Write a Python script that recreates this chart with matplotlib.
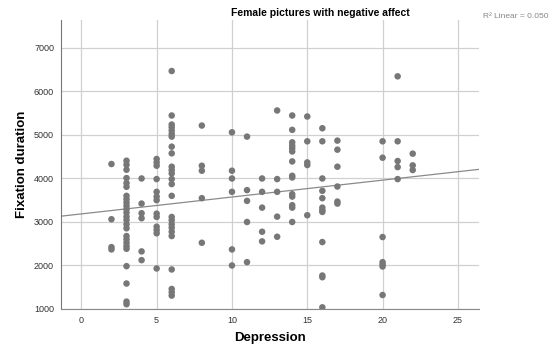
import numpy as np
import matplotlib
matplotlib.use('Agg')
import matplotlib.pyplot as plt

# Depression score -> fixation durations observed at that score
depression = [2] * 4 + [3] * 25 + [4] * 6 + [5] * 13 + [6] * 25 + [8] * 5 + [10] * 6 \
    + [11] * 5 + [12] * 5 + [13] * 5 + [14] * 14 + [15] * 5 + [16] * 12 + [17] * 6 \
    + [20] * 7 + [21] * 5 + [22] * 3

fixation = [
    # 2
    4331, 3062, 2422, 2369,
    # 3
    4407, 4315, 4200, 4008, 3893, 3808, 3600, 3523, 3445, 3369, 3292, 3214, 3122,
    3046, 2946, 2854, 2676, 2600, 2522, 2445, 2383, 1984, 1585, 1170, 1110,
    # 4
    3999, 3422, 3200, 3085, 2323, 2122,
    # 5
    4447, 4368, 4292, 3985, 3692, 3583, 3500, 3191, 3115, 2891, 2815, 2739, 1931,
    # 6
    6468, 5446, 5238, 5176, 5100, 5023, 4961, 4730, 4576, 4269, 4193, 4114, 3985,
    3870, 3600, 3115, 3039, 2946, 2868, 2775, 2676, 1908, 1460, 1384, 1308,
    # 8
    5215, 4292, 4177, 3546, 2522,
    # 10
    5060, 4177, 3999, 3692, 2369, 2000,
    # 11
    4961, 3731, 3484, 2999, 2076,
    # 12
    3999, 3692, 3329, 2775, 2554,
    # 13
    5561, 3985, 3692, 3122, 2660,
    # 14
    5446, 5116, 4830, 4753, 4691, 4620, 4391, 4061, 4022, 3639, 3583, 3385, 3329, 2999,
    # 15
    5423, 4853, 4368, 4308, 3154,
    # 16
    5153, 4853, 3999, 3715, 3546, 3329, 3269, 3230, 2538, 1769, 1730, 1038,
    # 17
    4869, 4661, 4269, 3814, 3468, 3422,
    # 20
    4853, 4476, 2653, 2076, 2023, 1977, 1321,
    # 21
    6346, 4853, 4400, 4260, 3985,
    # 22
    4569, 4300, 4193,
]

x_ticks = [0, 5, 10, 15, 20, 25]
y_ticks = [1000, 2000, 3000, 4000, 5000, 6000, 7000]

plt.rcParams['font.family'] = ['Liberation Sans', 'DejaVu Sans']

fig = plt.figure(figsize=(5.56, 3.6), dpi=100)
ax = fig.add_axes([0.1097, 0.1417, 0.7518, 0.8027])

x = np.array(depression)
y = np.array(fixation)

ax.scatter(x, y, s=22, color='#777777', edgecolors='none', zorder=3)

# linear fit line across the full x range
slope, intercept = np.polyfit(x, y, 1)
xl = np.array([-1.35, 26.4])
ax.plot(xl, intercept + slope * xl, color='#8a8a8a', lw=0.9, zorder=2)

ax.set_xlim(-1.35, 26.4)
ax.set_ylim(1000, 7640)
ax.set_xticks(x_ticks)
ax.set_yticks(y_ticks)
ax.grid(True, color='#d0d0d0', lw=0.9, zorder=0)
ax.set_axisbelow(True)
for side in ['top', 'right']:
    ax.spines[side].set_visible(False)
ax.spines['left'].set_color('#777777')
ax.spines['bottom'].set_color('#888888')
ax.tick_params(length=0, labelsize=6.5, labelcolor='#333333', pad=5)

ax.set_xlabel('Depression', fontsize=9.5, fontweight='bold', labelpad=5)
ax.set_ylabel('Fixation duration', fontsize=9.5, fontweight='bold', labelpad=4)

fig.text(0.577, 0.965, 'Female pictures with negative affect', ha='center', va='center',
         fontsize=7.5, fontweight='bold')
fig.text(0.869, 0.955, 'R² Linear = 0.050', ha='left', va='center',
         fontsize=6, color='#888888')

fig.savefig('out.png', dpi=100)
